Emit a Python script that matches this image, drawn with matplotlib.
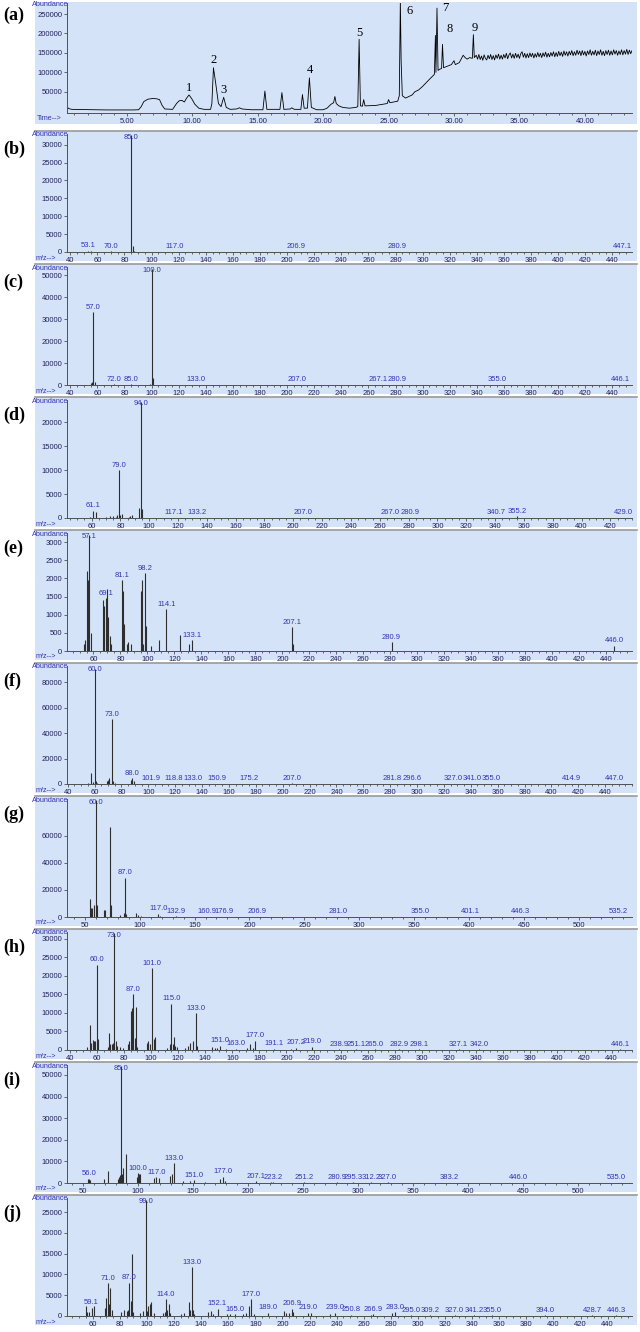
import numpy as np
import matplotlib
matplotlib.use('Agg')
import matplotlib.pyplot as plt
from matplotlib.patches import Rectangle
from matplotlib.lines import Line2D
from matplotlib.ticker import MultipleLocator, FuncFormatter

plt.rcParams['font.family'] = ['Liberation Sans', 'DejaVu Sans']

# ---------------- (a) total ion chromatogram ----------------
tic_time = [0.43, 0.55, 0.8, 1.5, 2.5, 3.5, 4.5, 5.5, 5.9, 6.1, 6.3, 6.6, 7.0, 7.3, 7.5, 7.7, 7.9,
            8.5, 8.8, 9.0, 9.2, 9.4, 9.55, 9.75, 9.95, 10.2, 10.5, 10.9, 11.4, 11.5, 11.62, 11.8,
            12.0, 12.2, 12.4, 12.6, 12.9, 13.4, 13.6, 13.8, 14.5, 15.4, 15.55, 15.7, 16.7, 16.85,
            17.0, 17.5, 17.6, 17.8, 18.3, 18.42, 18.55, 18.8, 18.95, 19.1, 19.5, 20.0, 20.3, 20.6,
            20.8, 20.9, 21.0, 21.2, 21.5, 22.0, 22.5, 22.65, 22.75, 22.85, 23.0, 23.1, 23.2, 24.0,
            24.9, 25.0, 25.1, 25.7, 25.82, 25.9, 25.96, 26.05, 26.3, 26.8, 27.0, 27.3, 27.6, 28.0,
            28.3, 28.5, 28.58, 28.62, 28.7, 28.78, 28.9, 29.05, 29.12, 29.2, 29.5, 29.8, 30.0,
            30.1, 30.4, 30.7, 30.85, 31.0, 31.2, 31.4, 31.48, 31.55]
tic_abund = [12000, 7000, 5000, 4500, 4000, 3500, 3500, 3500, 4000, 12000, 25000, 31000, 33000,
             32000, 30000, 15000, 6000, 5000, 20000, 27000, 28000, 24000, 33000, 42000, 33000,
             18000, 8000, 5000, 5000, 20000, 112000, 70000, 20000, 12000, 36000, 10000, 5000,
             6000, 9000, 6000, 4000, 4000, 52000, 5000, 5000, 48000, 5000, 6000, 9000, 5000,
             5000, 43000, 8000, 8000, 86000, 10000, 4000, 4000, 8000, 18000, 22000, 38000, 20000,
             14000, 10000, 8000, 10000, 12000, 185000, 14000, 13000, 30000, 14000, 15000, 20000,
             30000, 22000, 26000, 40000, 285000, 130000, 40000, 34000, 42000, 50000, 55000, 64000,
             78000, 88000, 95000, 195000, 100000, 265000, 105000, 108000, 110000, 172000, 112000,
             116000, 120000, 130000, 120000, 125000, 144000, 138000, 134000, 138000, 136000,
             197000, 138000]
# noisy plateau after 31.6 min (values in units of 1000)
plateau_start, plateau_step = 31.7, 0.1
plateau_k = [144, 134, 146, 133, 142, 131, 145, 136, 132, 144,
             135, 146, 133, 143, 132, 145, 136, 147, 134, 144,
             134, 146, 137, 149, 135, 145, 150, 137, 147, 136,
             149, 138, 147, 136, 148, 153, 139, 149, 137, 148,
             138, 150, 140, 149, 137, 148, 139, 151, 140, 149,
             138, 150, 141, 152, 139, 149, 140, 151, 142, 153,
             140, 151, 141, 154, 143, 152, 141, 155, 144, 153,
             142, 154, 145, 156, 143, 153, 144, 157, 146, 155,
             143, 156, 145, 154, 142, 155, 146, 158, 144, 154,
             145, 157, 143, 155, 146, 158, 144, 154, 143, 156,
             146, 157, 144, 155, 145, 158, 147, 156, 144, 155,
             146, 158, 145, 156, 147, 159, 146, 157, 148, 156]
peak_ids = ['1', '2', '3', '4', '5', '6', '7', '8', '9']
peak_times = [9.75, 11.62, 12.4, 18.95, 22.75, 25.9, 28.7, 29.12, 31.48]

# ---------------- mass spectra (m/z, abundance, labelled m/z) ----------------
b_mz = [53.1, 55, 70.0, 85.0, 86, 87, 117.0, 206.9, 280.9, 447.1]
b_ab = [350, 150, 150, 32800, 1800, 300, 80, 80, 80, 80]
b_lab = [53.1, 70.0, 85.0, 117.0, 206.9, 280.9, 447.1]

c_mz = [55, 56, 57.0, 58, 72.0, 85.0, 99, 100.0, 101, 133.0, 207.0, 267.1, 280.9, 355.0, 446.1]
c_ab = [900, 1500, 33200, 1400, 250, 300, 400, 53000, 3200, 100, 100, 100, 100, 100, 100]
c_lab = [57.0, 72.0, 85.0, 100.0, 133.0, 207.0, 267.1, 280.9, 355.0, 446.1]

d_mz = [59, 61.1, 63, 70, 73, 75, 77, 78, 79.0, 80, 81, 86, 87, 88, 93, 94.0, 95,
        117.1, 133.2, 207.0, 267.0, 280.9, 340.7, 355.2, 429.0]
d_ab = [300, 1500, 1200, 200, 400, 500, 300, 600, 10000, 700, 900, 300, 500, 600, 2000, 24200,
        1900, 100, 100, 100, 100, 100, 100, 400, 100]
d_lab = [61.1, 79.0, 94.0, 117.1, 133.2, 207.0, 267.0, 280.9, 340.7, 355.2, 429.0]

e_mz = [53, 54, 55, 56, 57.1, 58, 67, 68, 69.1, 70, 71, 72, 73, 81.1, 82, 83, 85, 86, 88,
        95, 96, 97, 98.2, 99, 103, 109, 114.1, 124.5, 131, 133.1, 207.1, 208, 280.9, 446.0]
e_ab = [200, 300, 2200, 1950, 3200, 500, 1400, 1250, 1450, 1700, 950, 400, 200, 1950, 1650,
        750, 200, 250, 200, 1650, 1950, 200, 2150, 700, 150, 300, 1150, 450, 200, 300, 650, 200,
        250, 150]
e_lab = [57.1, 69.1, 81.1, 98.2, 114.1, 133.1, 207.1, 280.9, 446.0]

f_mz = [55, 57, 59, 60.0, 61, 62, 69, 70, 71, 73.0, 74, 75, 87, 88.0, 89, 101.9, 118.8, 133.0,
        150.9, 175.2, 207.0, 281.8, 296.6, 327.0, 341.0, 355.0, 414.9, 447.0]
f_ab = [1000, 9000, 1500, 90000, 2500, 1000, 2500, 3500, 4500, 51000, 2000, 1000, 3000, 4500,
        2500, 200, 200, 200, 200, 300, 400, 200, 200, 200, 200, 200, 200, 200]
f_lab = [60.0, 73.0, 88.0, 101.9, 118.8, 133.0, 150.9, 175.2, 207.0, 281.8, 296.6, 327.0,
         341.0, 355.0, 414.9, 447.0]

g_mz = [55, 56, 57, 59, 60.0, 61, 68, 69, 73, 74, 82, 86, 87.0, 88, 97, 99, 101, 117.0, 119,
        132.9, 145, 160.9, 176.9, 206.9, 281.0, 355.0, 401.1, 446.3, 535.2]
g_ab = [13000, 7000, 7000, 8500, 86000, 9000, 5000, 5000, 66000, 9000, 1500, 3000, 29000, 2500,
        3000, 1500, 1000, 2500, 800, 500, 300, 300, 300, 300, 200, 200, 200, 200, 200]
g_lab = [60.0, 87.0, 117.0, 132.9, 160.9, 176.9, 206.9, 281.0, 355.0, 401.1, 446.3, 535.2]

h_mz = [53, 55, 56, 57, 58, 59, 60.0, 61, 68, 69, 70, 71, 72, 73.0, 74, 75, 77, 79, 83, 84, 85,
        86, 87.0, 88, 89, 90, 97, 98, 99, 101.0, 102, 103, 112, 114, 115.0, 116, 117, 118, 119,
        125, 127, 129, 131, 133.0, 134, 145, 147, 149, 151.0, 155, 163.0, 171, 173, 175, 177.0,
        191.1, 203, 207.2, 219.0, 238.9, 251.1, 265.0, 282.9, 298.1, 327.1, 342.0, 446.1]
h_ab = [800, 6800, 2000, 2800, 2500, 2500, 23000, 3000, 800, 4500, 1500, 1500, 2000, 31500,
        2500, 1000, 700, 500, 1500, 2500, 10500, 11200, 15000, 3200, 11500, 800, 2000, 2500,
        1500, 22000, 3000, 3500, 500, 1500, 12500, 1500, 3500, 1000, 700, 500, 1200, 2000, 2500,
        10000, 1000, 800, 600, 500, 1200, 300, 400, 500, 1500, 600, 2500, 300, 300, 600, 900,
        200, 200, 150, 150, 150, 150, 150, 150]
h_lab = [60.0, 73.0, 87.0, 101.0, 115.0, 133.0, 151.0, 163.0, 177.0, 191.1, 207.2, 219.0,
         238.9, 251.1, 265.0, 282.9, 298.1, 327.1, 342.0, 446.1]

i_mz = [55, 56.0, 57, 69, 73, 82, 83, 84, 85.0, 86, 87, 89, 99, 100.0, 101, 102, 115, 117.0,
        119, 129, 131, 133.0, 141, 147, 151.0, 161, 175, 177.0, 179, 207.1, 221, 223.2, 251.2,
        280.9, 295.3, 312.2, 327.0, 383.2, 446.0, 535.0]
i_ab = [2000, 2000, 1500, 2000, 5500, 2000, 3000, 3500, 54000, 4000, 7000, 13500, 3000, 4500,
        4200, 4300, 2500, 2800, 2500, 3400, 4000, 9300, 1000, 1000, 1200, 500, 2000, 3000, 800,
        800, 500, 300, 300, 300, 300, 300, 300, 200, 200, 200]
i_lab = [56.0, 85.0, 100.0, 117.0, 133.0, 151.0, 177.0, 207.1, 223.2, 251.2, 280.9, 295.3,
         312.2, 327.0, 383.2, 446.0, 535.0]

j_mz = [55, 56, 57, 59.1, 61, 69, 70, 71.0, 72, 73, 74, 81, 83, 85, 86, 87.0, 88, 89, 90, 95,
        97, 99.0, 100, 101, 102, 103, 105, 112, 113, 114.0, 115, 116, 117, 125, 127, 131, 132,
        133.0, 134, 135, 145, 147, 149, 152.1, 159, 161, 165.0, 171, 173, 175, 177.0, 179, 189.0,
        201, 203, 205, 206.9, 208, 219.0, 221, 235, 239.0, 250.8, 265, 266.9, 281, 283.0, 295.0,
        309.2, 327.0, 341.2, 355.0, 394.0, 428.7, 446.3]
j_ab = [2300, 900, 1000, 2000, 2400, 2000, 4300, 7900, 3000, 6800, 1500, 1000, 1500, 1200, 1500,
        8000, 3500, 15000, 1000, 800, 1200, 27800, 1300, 2500, 2800, 3300, 800, 800, 1000, 4000,
        1500, 3000, 800, 600, 800, 3300, 1500, 11800, 1500, 600, 1000, 1200, 600, 1800, 500,
        500, 400, 500, 700, 2300, 4000, 600, 800, 1100, 700, 800, 1800, 900, 800, 800, 400, 800,
        300, 300, 400, 700, 900, 200, 200, 200, 200, 200, 150, 150, 150]
j_lab = [59.1, 71.0, 87.0, 99.0, 114.0, 133.0, 152.1, 165.0, 177.0, 189.0, 206.9, 219.0, 239.0,
         250.8, 266.9, 283.0, 295.0, 309.2, 327.0, 341.2, 355.0, 394.0, 428.7, 446.3]

# ---------------- layout / style ----------------
W, H = 640, 1332
fig = plt.figure(figsize=(6.4, 13.32), dpi=100)
BG = '#d5e3f8'
TICKC = '#20205a'
LABC = '#3434b4'
AXC = '#505050'


def fx(px):
    return px / W


def fy(py):
    return 1 - py / H


def background(top, bottom, border):
    fig.add_artist(Rectangle((fx(35), fy(bottom)), fx(637) - fx(35), (bottom - top) / H,
                             transform=fig.transFigure, facecolor=BG, edgecolor='none', zorder=0))
    if border:
        fig.add_artist(Line2D([fx(35), fx(637)], [fy(top), fy(top)], transform=fig.transFigure,
                              color='#9a9a9a', lw=1.2, zorder=1))


def make_axes(top, bottom):
    ax = fig.add_axes([fx(67), fy(bottom), fx(632) - fx(67), (bottom - top) / H])
    ax.patch.set_visible(False)
    for s in ('top', 'right'):
        ax.spines[s].set_visible(False)
    for s in ('left', 'bottom'):
        ax.spines[s].set_color(AXC)
        ax.spines[s].set_linewidth(0.7)
    ax.tick_params(which='both', direction='out', color=AXC, labelcolor=TICKC, labelsize=5.5,
                   width=0.6)
    ax.tick_params(which='major', length=2.5, pad=1)
    ax.tick_params(which='minor', length=1.5)
    return ax


def panel_label(text, y):
    fig.text(fx(3), fy(y), text, fontsize=13, fontweight='bold', family='Liberation Serif',
             ha='left', va='center', color='black')


# ---- panel (a)
background(2, 124, False)
axa = make_axes(3, 112.7)
t_all = list(tic_time) + [round(plateau_start + plateau_step * i, 2) for i in range(len(plateau_k))]
v_all = list(tic_abund) + [v * 1000 for v in plateau_k]
axa.plot(t_all, v_all, color='black', lw=0.6)
axa.set_xlim(0.43, 43.6)
axa.set_ylim(-3600, 278300)
axa.xaxis.set_minor_locator(MultipleLocator(1))
axa.set_xticks([5, 10, 15, 20, 25, 30, 35, 40])
axa.xaxis.set_major_formatter(FuncFormatter(lambda v, p: f'{v:.2f}'))
axa.set_yticks([50000, 100000, 150000, 200000, 250000])
axa.yaxis.set_major_formatter(FuncFormatter(lambda v, p: f'{int(v)}'))
lab_off = [(0, 5), (0, 5.6), (0, 5), (0, 5.9), (0, 4.7), (4.5, -6.0), (3.8, 0), (3.0, 11.2), (1, 4.7)]
for pid, pt, off in zip(peak_ids, peak_times, lab_off):
    pv = v_all[t_all.index(pt)]
    pv = min(pv, 278300)
    axa.annotate(pid, (pt, pv), xytext=off, textcoords='offset points',
                 ha='center' if off[0] < 2 else 'left',
                 va='center', fontsize=9, family='Liberation Serif', color='black')
fig.text(fx(68), fy(5), 'Abundance', ha='right', va='center', fontsize=5.2, color=LABC)
fig.text(fx(37), fy(119), 'Time-->', ha='left', va='center', fontsize=5.2, color=LABC)
panel_label('(a)', 15)

# ---- spectra panels
spectra = [
    ('(b)', b_mz, b_ab, b_lab, (37.6, 454.5), 33000, 5000, 30000, 40, 20, 5),
    ('(c)', c_mz, c_ab, c_lab, (37.6, 454.5), 53700, 10000, 50000, 40, 20, 5),
    ('(d)', d_mz, d_ab, d_lab, (43, 435), 24700, 5000, 20000, 60, 20, 5),
    ('(e)', e_mz, e_ab, e_lab, (40.5, 459), 3250, 500, 3000, 60, 20, 5),
    ('(f)', f_mz, f_ab, f_lab, (39.5, 460), 92700, 20000, 80000, 40, 20, 5),
    ('(g)', g_mz, g_ab, g_lab, (34, 548), 87000, 20000, 60000, 50, 50, 10),
    ('(h)', h_mz, h_ab, h_lab, (38, 455), 31800, 5000, 30000, 40, 20, 5),
    ('(i)', i_mz, i_ab, i_lab, (35.7, 549), 54600, 10000, 50000, 50, 50, 10),
    ('(j)', j_mz, j_ab, j_lab, (41, 458), 28400, 5000, 25000, 60, 20, 5),
]

for k, (name, mz, ab, labs, xl, ytop, ystep, ymaxtick, x0, xstep, xminor) in enumerate(spectra):
    T = 131 + 133 * k
    background(T, T + 130, True)
    ax = make_axes(T + 3, T + 121)
    ax.vlines(mz, 0, ab, color='#2e2e2e', lw=0.8)
    ax.set_xlim(*xl)
    ax.set_ylim(0, ytop)
    ax.set_xticks(np.arange(x0, xl[1], xstep))
    ax.xaxis.set_minor_locator(MultipleLocator(xminor))
    ax.set_yticks(np.arange(0, ymaxtick + 1, ystep))
    ax.xaxis.set_major_formatter(FuncFormatter(lambda v, p: f'{int(v)}'))
    ax.yaxis.set_major_formatter(FuncFormatter(lambda v, p: f'{int(v)}'))
    for m, a in zip(mz, ab):
        if m in labs:
            if a >= 0.93 * ytop:
                ax.text(m, ytop, f'{m:.1f}', ha='center', va='top', fontsize=5.5, color=LABC)
            else:
                ax.annotate(f'{m:.1f}', (m, a), xytext=(0, 1), textcoords='offset points',
                            ha='center', va='bottom', fontsize=5.5, color=LABC)
    fig.text(fx(68), fy(T + 4), 'Abundance', ha='right', va='center', fontsize=5.2, color=LABC)
    fig.text(fx(36), fy(T + 127), 'm/z-->', ha='left', va='center', fontsize=5.2, color=LABC)
    panel_label(name, T + 18)

fig.savefig('out.png', dpi=100, facecolor='white')
